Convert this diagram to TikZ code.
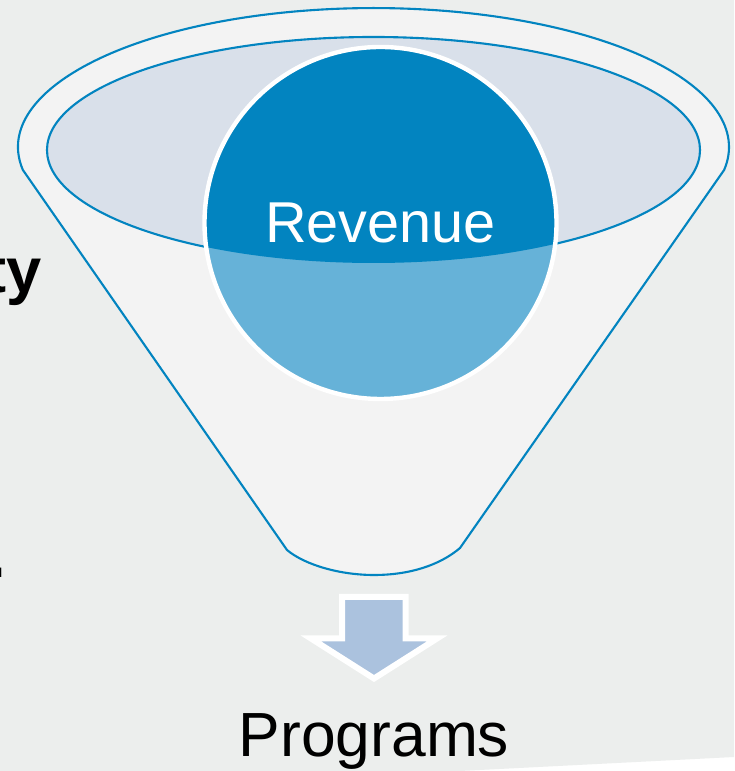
\documentclass[tikz,border=0pt]{standalone}
\usepackage{fontspec}
\setmainfont{Liberation Sans}
\usepackage{tikz}

\definecolor{slidebg}{HTML}{ECEEED}
\definecolor{funnelfill}{HTML}{F3F3F3}
\definecolor{rimfill}{HTML}{D9E0EA}
\definecolor{lineblue}{HTML}{0284C0}
\definecolor{darkblue}{HTML}{0284C0}
\definecolor{lightblue}{HTML}{66B2D8}
\definecolor{arrowfill}{HTML}{ABC2DE}

\begin{document}
\begin{tikzpicture}[>=latex,
  funnel/.style={fill=funnelfill, draw=lineblue, line width=1.2pt},
  rim/.style={fill=rimfill, draw=lineblue, line width=1.2pt},
  ball/.style={circle, minimum size=7.04cm, inner sep=0pt, fill=lightblue, draw=white, line width=2.5pt, text=white,
    path picture={\fill[darkblue] (path picture bounding box.center) ++(-0.14,1.46) ellipse[x radius=6.53, y radius=2.26];}},
  bigtext/.style={font=\fontsize{35.5}{40}\selectfont},
  cuttext/.style={font=\bfseries\fontsize{36}{40}\selectfont, anchor=base east, inner sep=0pt}]
\useasboundingbox (0,0) rectangle (14.68,15.42);
\fill[white] (0,0) rectangle (14.68,15.42);
\fill[slidebg] (0,0) -- (0,15.42) -- (14.68,15.42) -- (14.68,0.28) -- (9.2,0) -- cycle;

% funnel body and rim
\draw[funnel] (0.458,12.02) arc[start angle=189.5, end angle=-9.5, x radius=7.11, y radius=2.78]
  -- (9.20,4.46) .. controls (8.8,4.12) and (8.2,3.92) .. (7.48,3.92)
  .. controls (6.8,3.92) and (6.1,4.12) .. (5.74,4.42) -- cycle;
\filldraw[rim] (7.47,12.42) ellipse[x radius=6.53, y radius=2.26];

\node[ball, font=\fontsize{32.8}{36}\selectfont] (revenue) at (7.61,10.96) {Revenue};

% block arrow out of the funnel
\filldraw[fill=arrowfill, draw=white, line width=0.12cm] (6.84,3.48) -- (8.11,3.48) -- (8.11,2.65) -- (8.74,2.65)
  -- (7.48,1.85) -- (6.22,2.65) -- (6.84,2.65) -- cycle;

\node[bigtext, anchor=base] (programs) at (7.48,0.28) {Programs};

% text cut off at the left edge
\node[cuttext] (ty) at (0.85,9.56) {ty};
\node[cuttext] (stop) at (0.13,3.86) {.};
\end{tikzpicture}
\end{document}
